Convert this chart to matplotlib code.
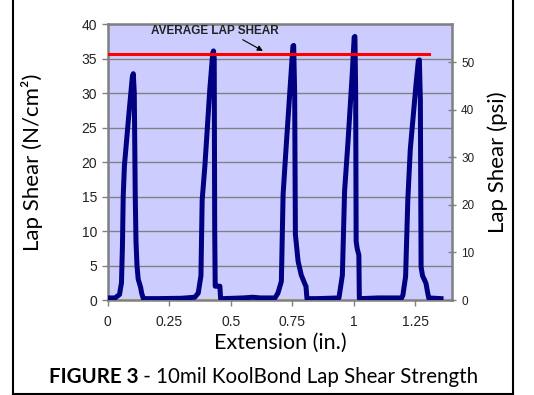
import numpy as np
import matplotlib
matplotlib.use('Agg')
import matplotlib.pyplot as plt
from matplotlib.lines import Line2D

# Extension (in.) and lap shear (N/cm^2)
extension = [0.000, 0.030, 0.048, 0.056, 0.060, 0.063, 0.068, 0.085, 0.100, 0.104, 0.108,
             0.112, 0.115, 0.119, 0.124, 0.130, 0.134, 0.138, 0.145, 0.200, 0.300,
             0.354, 0.368, 0.379, 0.384, 0.395, 0.415, 0.427, 0.430, 0.433, 0.435, 0.437,
             0.448, 0.456, 0.459, 0.470, 0.550, 0.590, 0.620, 0.680,
             0.692, 0.706, 0.713, 0.726, 0.747, 0.753, 0.756, 0.760, 0.763, 0.774, 0.787,
             0.803, 0.806, 0.810, 0.850, 0.940,
             0.943, 0.954, 0.963, 0.977, 0.994, 1.002, 1.005, 1.008, 1.010, 1.014, 1.021,
             1.023, 1.030, 1.100, 1.195,
             1.200, 1.211, 1.220, 1.230, 1.254, 1.263, 1.267, 1.271, 1.274, 1.280, 1.288,
             1.294, 1.300, 1.305, 1.355]
shear = [0.3, 0.3, 0.8, 2.5, 8.0, 15.0, 19.5, 26.5, 32.3, 32.8, 30.0,
         15.0, 8.5, 5.0, 3.0, 2.3, 1.8, 1.0, 0.2, 0.2, 0.25,
         0.4, 1.0, 3.5, 14.5, 19.4, 30.5, 35.8, 36.1, 35.0, 10.0, 2.0,
         2.0, 2.0, 0.2, 0.2, 0.3, 0.4, 0.3, 0.3,
         1.0, 2.7, 15.3, 22.5, 33.7, 36.8, 36.9, 30.0, 9.5, 5.6, 3.6,
         2.2, 2.0, 0.2, 0.2, 0.3,
         1.0, 3.6, 15.8, 23.0, 32.7, 38.1, 38.2, 30.0, 8.5, 7.5, 6.5,
         0.2, 0.2, 0.3, 0.3,
         0.7, 3.4, 14.5, 21.8, 31.5, 34.7, 34.8, 29.0, 4.8, 3.5, 2.9,
         2.4, 1.2, 0.3, 0.2]

avg_shear = 35.6
avg_end = 1.308
yellow_ranges = [(0.05, 0.138), (0.375, 0.448), (0.699, 0.768)]

psi_per_ncm2 = 1.4504

fig = plt.figure(figsize=(5.34, 3.95), dpi=100)
ax = fig.add_axes([0.2017, 0.2405, 0.6449, 0.6987])
ax.set_facecolor('#CCCCFF')

for y in range(5, 41, 5):
    ax.axhline(y, color='#808080', lw=1.0, zorder=1)

for a, b in yellow_ranges:
    ax.plot([a, b], [0, 0], color='#E8E800', lw=1.5, zorder=2, solid_capstyle='butt')

ax.plot(extension, shear, color='#000080', lw=3.6, zorder=4, solid_joinstyle='round')
ax.plot([0, avg_end], [avg_shear, avg_shear], color='#FF0000', lw=2.2, zorder=5)

ax.annotate('AVERAGE LAP SHEAR', xy=(0.631, 36.1), xytext=(0.435, 39.0),
            ha='center', va='center', fontsize=8.5, fontweight='bold',
            family='Liberation Sans', color='#222222',
            arrowprops=dict(arrowstyle='-|>', color='black', lw=0.8,
                            shrinkA=0, shrinkB=0, mutation_scale=8,
                            relpos=(0.68, 0.0)))

ax.set_xlim(0, 1.4)
ax.set_ylim(0, 40)
ax.set_xticks([0, 0.25, 0.5, 0.75, 1, 1.25])
ax.set_xticklabels(['0', '0.25', '0.5', '0.75', '1', '1.25'])
ax.set_yticks(range(0, 41, 5))
for s in ax.spines.values():
    s.set_color('#808080')
    s.set_linewidth(1.8)
ax.tick_params(axis='both', colors='#808080', labelcolor='#222222', length=4,
               width=1, labelsize=10)
ax.tick_params(axis='x', pad=7)
for lbl in ax.get_xticklabels() + ax.get_yticklabels():
    lbl.set_family('Liberation Sans')

ax2 = ax.twinx()
ax2.set_ylim(0, 40 * psi_per_ncm2)
ax2.set_yticks(range(0, 51, 10))
ax2.tick_params(axis='y', direction='inout', colors='#808080', labelcolor='#222222',
                length=6, width=1, labelsize=8.5)
for lbl in ax2.get_yticklabels():
    lbl.set_family('Liberation Sans')
for s in ax2.spines.values():
    s.set_visible(False)

ax.set_xlabel('Extension (in.)', family='Lato', fontsize=15.5)
ax.xaxis.set_label_coords(0.5, -0.12)
ax.set_ylabel('Lap Shear (N/cm²)', family='Lato', fontsize=16)
ax.yaxis.set_label_coords(-0.188, 0.5)
ax2.set_ylabel('Lap Shear (psi)', family='Lato', fontsize=16)
ax2.yaxis.set_label_coords(1.103, 0.5)

# caption: bold prefix plus regular rest, centred as one line
fig.canvas.draw()
r = fig.canvas.get_renderer()
t1 = fig.text(0, 0.046, 'FIGURE 3', family='Lato', fontweight='bold', fontsize=14.8,
              ha='left', va='center')
t2 = fig.text(0, 0.046, ' - 10mil KoolBond Lap Shear Strength', family='Lato',
              fontsize=14.8, ha='left', va='center')
w1 = t1.get_window_extent(r).width / fig.bbox.width
w2 = t2.get_window_extent(r).width / fig.bbox.width
x0 = 0.4935 - (w1 + w2) / 2
t1.set_x(x0)
t2.set_x(x0 + w1)

# outer frame
fig.add_artist(Line2D([0.024, 0.024], [0.002, 1.0], color='black', lw=1.5))
fig.add_artist(Line2D([0.961, 0.961], [0.002, 1.0], color='black', lw=1.5))
fig.add_artist(Line2D([0.024, 0.961], [0.003, 0.003], color='black', lw=1.5))

fig.savefig('out.png', dpi=100)
